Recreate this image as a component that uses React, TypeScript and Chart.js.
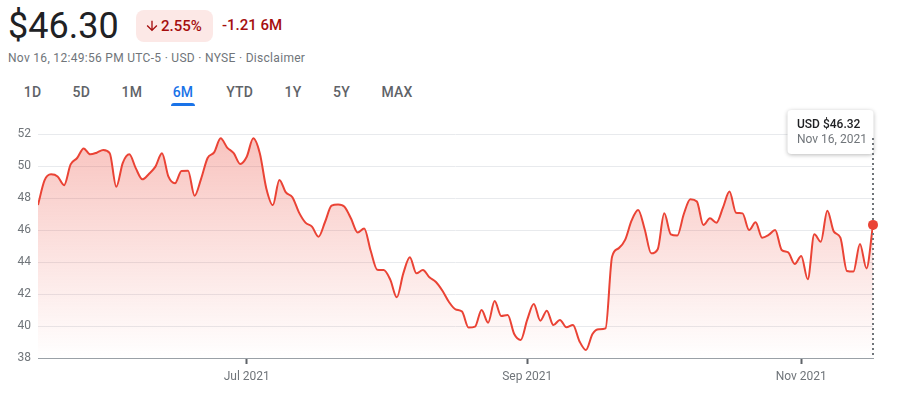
import React, { useEffect, useRef } from "react";
import { Chart, registerables } from "chart.js";

Chart.register(...registerables);

// ---- Data ----
const prices: number[] = [
  47.56, 49.1, 49.48, 49.35, 48.8, 50.1, 50.5, 51.1, 50.73, 50.83,
  51.0, 50.8, 48.7, 50.2, 50.73, 49.85, 49.17, 49.5, 49.96, 50.8,
  49.33, 48.92, 49.69, 49.7, 48.14, 49.2, 50.5, 50.85, 51.73, 51.15,
  50.8, 50.13, 50.58, 51.73, 50.8, 48.6, 47.56, 49.13, 48.35, 48.05,
  47.1, 46.46, 46.21, 45.58, 46.5, 47.52, 47.6, 47.45, 46.7, 45.85,
  46.1, 44.7, 43.52, 43.5, 42.9, 41.79, 43.29, 44.29, 43.29, 43.5,
  43.04, 42.75, 42.2, 41.5, 41.04, 40.9, 39.9, 39.96, 41.0, 40.21,
  41.56, 40.63, 40.69, 39.5, 39.13, 40.4, 41.38, 40.33, 40.96, 40.06,
  40.38, 39.92, 40.06, 39.05, 38.5, 39.5, 39.79, 39.85, 44.33, 44.85,
  45.38, 46.6, 47.25, 46.05, 44.54, 44.8, 47.04, 45.73, 45.65, 47.0,
  47.92, 47.78, 46.31, 46.73, 46.46, 47.4, 48.4, 47.08, 47.04, 46.0,
  46.48, 45.52, 45.69, 46.0, 44.75, 44.6, 43.88, 44.38, 42.92, 45.73,
  45.27, 47.21, 45.9, 45.52, 43.44, 43.4, 45.13, 43.6, 46.32,
];
const xTickIndices: number[] = [32, 75, 117];
const xTickLabels: string[] = ["Jul 2021", "Sep 2021", "Nov 2021"];
const yTickValues: number[] = [38, 40, 42, 44, 46, 48, 50, 52];
const tabs: string[] = ["1D", "5D", "1M", "6M", "YTD", "1Y", "5Y", "MAX"];
const tabCenters: number[] = [32.5, 81.3, 131.8, 183, 239.7, 293, 341.5, 397];
const selectedTab = "6M";
const lastDateLabel = "Nov 16, 2021";
const headerPrice = "$46.30";
const headerChangePct = "2.55%";
const headerChange = "-1.21 6M";
const subtitle = "Nov 16, 12:49:56 PM UTC-5 · USD · NYSE · Disclaimer";

const RED = "#ea4335";
const FONT = "Roboto, Arial, sans-serif";

const overlayPlugin = {
  id: "overlay",
  afterDraw(chart: any) {
    const meta = chart.getDatasetMeta(0);
    const pt = meta.data[meta.data.length - 1];
    if (!pt) return;
    const { ctx, chartArea } = chart;
    ctx.save();
    // tooltip box
    const w = 86;
    const h = 44;
    const bx = pt.x - w + 0.5;
    const by = chartArea.top - 24;
    ctx.shadowColor = "rgba(0,0,0,0.28)";
    ctx.shadowBlur = 4;
    ctx.shadowOffsetY = 1;
    ctx.fillStyle = "#ffffff";
    ctx.beginPath();
    ctx.roundRect(bx, by, w, h, 4);
    ctx.fill();
    ctx.shadowColor = "rgba(0,0,0,0)";
    ctx.shadowBlur = 0;
    ctx.shadowOffsetY = 0;
    ctx.textBaseline = "alphabetic";
    ctx.textAlign = "left";
    ctx.fillStyle = "#202124";
    ctx.font = `500 12px ${FONT}`;
    ctx.fillText(`USD $${prices[prices.length - 1].toFixed(2)}`, bx + 9.5, by + 17.7);
    ctx.fillStyle = "#70757a";
    ctx.font = `400 12px ${FONT}`;
    ctx.fillText(lastDateLabel, bx + 9.5, by + 32.7);
    // dotted line
    ctx.strokeStyle = "#70757a";
    ctx.lineWidth = 2;
    ctx.setLineDash([2, 3]);
    ctx.beginPath();
    ctx.moveTo(pt.x, chartArea.top + 4);
    ctx.lineTo(pt.x, chartArea.bottom);
    ctx.stroke();
    ctx.setLineDash([]);
    // dot
    ctx.fillStyle = RED;
    ctx.beginPath();
    ctx.arc(pt.x, pt.y, 5, 0, Math.PI * 2);
    ctx.fill();
    ctx.restore();
  },
};

function StockChart() {
  const ref = useRef<HTMLCanvasElement | null>(null);
  useEffect(() => {
    if (!ref.current) return;
    Chart.defaults.font.family = FONT;
    const chart = new Chart(ref.current, {
      type: "line",
      data: {
        datasets: [
          {
            data: prices.map((v, i) => ({ x: i, y: v })),
            borderColor: RED,
            borderWidth: 2,
            pointRadius: 0,
            cubicInterpolationMode: "monotone",
            fill: "start",
            backgroundColor: (c: any) => {
              const ch = c.chart;
              const area = ch.chartArea;
              if (!area) return "rgba(234,67,53,0.15)";
              const g = ch.ctx.createLinearGradient(0, area.top, 0, area.bottom);
              g.addColorStop(0, "rgba(234,67,53,0.32)");
              g.addColorStop(1, "rgba(234,67,53,0)");
              return g;
            },
          },
        ],
      },
      options: {
        animation: false,
        responsive: false,
        maintainAspectRatio: false,
        events: [],
        layout: { padding: { top: 34, right: 25, left: 0, bottom: 0 } },
        plugins: { legend: { display: false }, tooltip: { enabled: false } },
        scales: {
          x: {
            type: "linear",
            min: 0,
            max: prices.length - 1,
            afterBuildTicks: (s: any) => {
              s.ticks = xTickIndices.map((v) => ({ value: v }));
            },
            afterFit: (s: any) => {
              s.height = 40;
            },
            grid: {
              drawOnChartArea: false,
              drawTicks: true,
              tickLength: 6,
              tickWidth: 2,
              tickColor: "#5f6368",
            },
            border: { display: true, color: "#9aa0a6", width: 1 },
            ticks: {
              autoSkip: false,
              maxRotation: 0,
              padding: 6,
              color: "#70757a",
              font: { size: 12 },
              callback: (v: any) => {
                const k = xTickIndices.indexOf(Number(v));
                return k >= 0 ? xTickLabels[k] : "";
              },
            },
          },
          y: {
            min: 38,
            max: 52,
            afterBuildTicks: (s: any) => {
              s.ticks = yTickValues.map((v) => ({ value: v }));
            },
            afterFit: (s: any) => {
              s.width = 38;
            },
            grid: {
              color: (c: any) => (c.tick && c.tick.value === 38 ? "rgba(0,0,0,0)" : "#e8eaed"),
              drawTicks: false,
            },
            border: { display: false },
            ticks: { padding: 7, color: "#70757a", font: { size: 12 } },
          },
        },
      },
      plugins: [overlayPlugin],
    } as any);
    return () => chart.destroy();
  }, []);
  return (
    <canvas
      ref={ref}
      width={898}
      height={298}
      style={{ position: "absolute", left: 0, top: 100, width: 898, height: 298 }}
    />
  );
}

export default function App() {
  return (
    <div
      style={{
        position: "fixed",
        left: 0,
        top: 0,
        width: 898,
        height: 398,
        background: "#fff",
        fontFamily: FONT,
        overflow: "hidden",
      }}
    >
      <div
        style={{
          position: "absolute",
          left: 8,
          top: 8,
          fontSize: 36,
          lineHeight: "36px",
          color: "#202124",
          whiteSpace: "nowrap",
        }}
      >
        {headerPrice}
      </div>
      <div
        style={{
          position: "absolute",
          left: 136,
          top: 10,
          width: 77,
          height: 32,
          borderRadius: 8,
          background: "#fce8e6",
          color: "#a50e0e",
          display: "flex",
          alignItems: "center",
          boxSizing: "border-box",
          paddingLeft: 8,
          fontSize: 15,
          fontWeight: 500,
          whiteSpace: "nowrap",
        }}
      >
        <svg width="16" height="16" viewBox="0 0 24 24" style={{ marginRight: 1 }}>
          <path fill="#a50e0e" d="M20 12l-1.41-1.41L13 16.17V4h-2v12.17l-5.58-5.59L4 12l8 8 8-8z" />
        </svg>
        <span>{headerChangePct}</span>
      </div>
      <div
        style={{
          position: "absolute",
          left: 222,
          top: 18,
          fontSize: 15,
          lineHeight: "15px",
          fontWeight: 500,
          color: "#a50e0e",
          whiteSpace: "nowrap",
        }}
      >
        {headerChange}
      </div>
      <div
        style={{
          position: "absolute",
          left: 8,
          top: 52,
          fontSize: 12,
          lineHeight: "12px",
          letterSpacing: "0.3px",
          color: "#70757a",
          whiteSpace: "nowrap",
        }}
      >
        {subtitle}
      </div>
      {tabs.map((t, i) => (
        <div
          key={t}
          style={{
            position: "absolute",
            left: tabCenters[i] - 30,
            width: 60,
            top: 85,
            textAlign: "center",
            fontSize: 14,
            lineHeight: "14px",
            fontWeight: 500,
            letterSpacing: "0.25px",
            color: t === selectedTab ? "#1a73e8" : "#5f6368",
          }}
        >
          {t}
        </div>
      ))}
      <div
        style={{
          position: "absolute",
          left: tabCenters[tabs.indexOf(selectedTab)] - 12,
          width: 24,
          top: 103,
          height: 3,
          borderRadius: "3px 3px 0 0",
          background: "#1a73e8",
        }}
      />
      <StockChart />
    </div>
  );
}
